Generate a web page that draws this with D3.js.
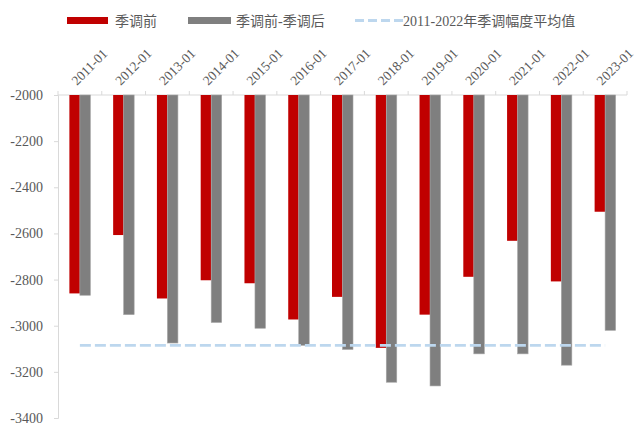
<!DOCTYPE html>
<html>
<head>
<meta charset="utf-8">
<script src="https://cdn.jsdelivr.net/npm/d3@7"></script>
<style>
  body { margin: 0; background: #fff; }
  svg text { fill: #595959; font-family: "Liberation Serif", "Times New Roman", serif; }
  svg .legend text { font-family: "Liberation Serif", "Noto Sans CJK SC", serif; }
</style>
</head>
<body>
<div id="chart"></div>
<script>
// data
var years = ["2011-01", "2012-01", "2013-01", "2014-01", "2015-01", "2016-01", "2017-01",
    "2018-01", "2019-01", "2020-01", "2021-01", "2022-01", "2023-01"];
var preAdj = [-2860, -2607, -2882, -2803, -2816, -2973, -2875, -3096, -2952, -2788, -2632, -2808, -2506];
var preMinusPost = [-2868, -2952, -3075, -2986, -3011, -3085, -3103, -3245, -3261, -3122, -3122, -3171, -3020];
var avgValue = -3085;
var yTicks = [-2000, -2200, -2400, -2600, -2800, -3000, -3200, -3400];
var seriesNames = ["季调前", "季调前-季调后", "2011-2022年季调幅度平均值"];

var svgWidth = 641;
var svgHeight = 425;
var margin = { top: 95, right: 14, bottom: 7, left: 58 };

var svg = d3.select("#chart")
    .append("svg")
    .attr("width", svgWidth)
    .attr("height", svgHeight);

var x0 = d3.scaleBand()
    .domain(years)
    .range([margin.left, svgWidth - margin.right])
    .padding(0);

var barW = 10.5;
var x1 = d3.scaleBand()
    .domain(["pre", "diff"])
    .range([x0.bandwidth() / 2 - barW, x0.bandwidth() / 2 + barW]);

var y = d3.scaleLinear()
    .domain([-2000, -3400])
    .range([margin.top, svgHeight - margin.bottom]);

// left axis
var yAxis = d3.axisLeft(y)
    .tickValues(yTicks)
    .tickSize(4)
    .tickPadding(11)
    .tickFormat(d => String(d));

var yg = svg.append("g")
    .attr("transform", `translate(${margin.left}, 0)`)
    .call(yAxis);
yg.attr("font-family", null);
yg.select(".domain").attr("stroke", "#d9d9d9");
yg.selectAll(".tick line").attr("stroke", "#d9d9d9");
yg.selectAll(".tick text")
    .style("font-size", "14px")
    .attr("fill", "#595959");

// top axis line with ticks at category boundaries
svg.append("line")
    .attr("x1", x0.range()[0])
    .attr("x2", x0.range()[1])
    .attr("y1", y(-2000))
    .attr("y2", y(-2000))
    .attr("stroke", "#d9d9d9");

var bounds = years.map(d => x0(d) + x0.bandwidth()).concat([x0(years[0])]);
svg.selectAll("line.xtick")
    .data(bounds)
    .enter()
    .append("line")
    .attr("class", "xtick")
    .attr("x1", d => d)
    .attr("x2", d => d)
    .attr("y1", y(-2000))
    .attr("y2", y(-2000) - 4)
    .attr("stroke", "#d9d9d9");

// bars
var groups = svg.selectAll("g.year")
    .data(years)
    .enter()
    .append("g")
    .attr("class", "year")
    .attr("transform", d => `translate(${x0(d)}, 0)`);

groups.append("rect")
    .attr("x", x1("pre"))
    .attr("width", x1.bandwidth())
    .attr("y", y(-2000))
    .attr("height", (d, i) => y(preAdj[i]) - y(-2000))
    .attr("fill", "#c00000");

groups.append("rect")
    .attr("x", x1("diff"))
    .attr("width", x1.bandwidth())
    .attr("y", y(-2000))
    .attr("height", (d, i) => y(preMinusPost[i]) - y(-2000))
    .attr("fill", "#7f7f7f")
    .attr("stroke", "#a6a6a6")
    .attr("stroke-width", 0.6);

// average line
var first = x0(years[0]) + x0.bandwidth() / 2;
var last = x0(years[years.length - 1]) + x0.bandwidth() / 2;
svg.append("line")
    .attr("x1", first)
    .attr("x2", last)
    .attr("y1", y(avgValue))
    .attr("y2", y(avgValue))
    .attr("stroke", "#bdd7ee")
    .attr("stroke-width", 2.8)
    .attr("stroke-dasharray", "11,4");

// rotated category labels
svg.selectAll("text.xlab")
    .data(years)
    .enter()
    .append("text")
    .attr("class", "xlab")
    .attr("transform", d => `translate(${x0(d) + x0.bandwidth() / 2 - 3}, 86) rotate(-45)`)
    .style("font-size", "13.5px")
    .text(d => d);

// legend
var legend = svg.append("g").attr("class", "legend").style("font-size", "14px");

legend.append("rect")
    .attr("x", 67).attr("y", 17).attr("width", 41).attr("height", 7)
    .attr("fill", "#c00000");
legend.append("text")
    .attr("x", 115).attr("y", 26)
    .text(seriesNames[0]);

legend.append("rect")
    .attr("x", 188).attr("y", 17).attr("width", 43).attr("height", 7)
    .attr("fill", "#7f7f7f");
legend.append("text")
    .attr("x", 236).attr("y", 26)
    .text(seriesNames[1]);

legend.append("line")
    .attr("x1", 355).attr("x2", 403).attr("y1", 20.5).attr("y2", 20.5)
    .attr("stroke", "#bdd7ee")
    .attr("stroke-width", 2.8)
    .attr("stroke-dasharray", "9,4");
legend.append("text")
    .attr("x", 403).attr("y", 26)
    .text(seriesNames[2]);
</script>
</body>
</html>
